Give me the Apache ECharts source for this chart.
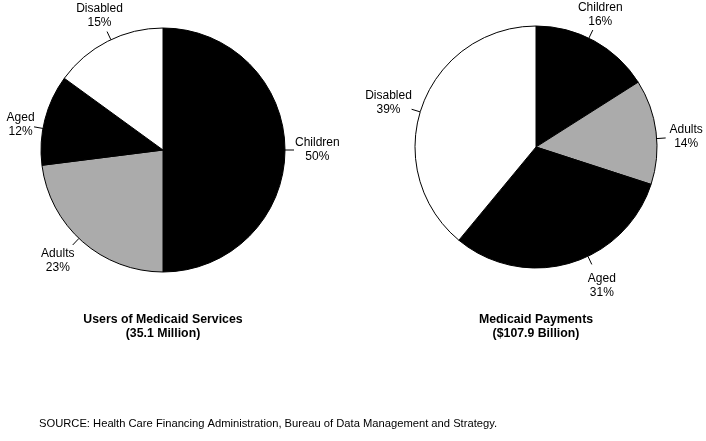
<!DOCTYPE html>
<html>
<head>
<meta charset="utf-8">
<script src="https://cdn.jsdelivr.net/npm/echarts@6/dist/echarts.min.js"></script>
<style>
html,body{margin:0;padding:0;background:#fff;}
#chart{width:706px;height:441px;}
</style>
</head>
<body>
<div id="chart"></div>
<script>
// ---- data ----
const categories = ['Children', 'Adults', 'Aged', 'Disabled'];
const usersShare = [50, 23, 12, 15];      // % of 35.1 million users
const paymentsShare = [16, 14, 31, 39];   // % of $107.9 billion payments
const usersTitle = 'Users of Medicaid Services\n(35.1 Million)';
const paymentsTitle = 'Medicaid Payments\n($107.9 Billion)';
const sourceText = 'SOURCE: Health Care Financing Administration, Bureau of Data Management and Strategy.';

// ---- styles / layout (not data) ----
const sliceColors = { Children: '#000000', Adults: '#ababab', Aged: '#000000', Disabled: '#ffffff' };
const pieGeom = [ { cx: 163, cy: 150, r: 122 }, { cx: 536, cy: 147, r: 121 } ];
const labelGap = 8;
const leaderLen = 9;
const labelNudge = [
  [[2, 0], [-5, -3], [0, 11], [6, 2]],
  [[-9, 1], [4, 8], [25, -2], [-1, 8]]
];
const FONT = '"Liberation Sans", Arial, Helvetica, sans-serif';

function midAngles(values) {
  const total = values.reduce((a, b) => a + b, 0);
  let acc = 0;
  return values.map(v => { const m = (acc + v / 2) / total * Math.PI * 2; acc += v; return m; });
}
const mids = [midAngles(usersShare), midAngles(paymentsShare)];

function buildData(values) {
  return categories.map((c, i) => ({
    name: c,
    value: values[i],
    itemStyle: { color: sliceColors[c] }
  }));
}

function labelLayout(p) {
  const g = pieGeom[p.seriesIndex];
  const th = mids[p.seriesIndex][p.dataIndex];
  const dx = Math.sin(th), dy = -Math.cos(th);
  const w = p.labelRect.width, h = p.labelRect.height;
  const sup = Math.abs(dx) * w / 2 + Math.abs(dy) * h / 2;
  const n = labelNudge[p.seriesIndex][p.dataIndex];
  const lx = g.cx + dx * (g.r + labelGap + sup) + n[0];
  const ly = g.cy + dy * (g.r + labelGap + sup) + n[1];
  let ux = lx - g.cx, uy = ly - g.cy;
  const m = Math.hypot(ux, uy); ux /= m; uy /= m;
  const e0 = [g.cx + ux * g.r, g.cy + uy * g.r];
  const e1 = [g.cx + ux * (g.r + leaderLen), g.cy + uy * (g.r + leaderLen)];
  return { x: lx, y: ly, align: 'center', verticalAlign: 'middle', labelLinePoints: [e0, e1, e1] };
}

function pieSeries(idx, values) {
  const g = pieGeom[idx];
  return {
    type: 'pie',
    center: [g.cx, g.cy],
    radius: g.r,
    startAngle: 90,
    clockwise: true,
    avoidLabelOverlap: false,
    animation: false,
    silent: true,
    itemStyle: { borderColor: '#000', borderWidth: 1 },
    label: {
      show: true,
      position: 'outside',
      formatter: p => p.name + '\n' + p.value + '%',
      fontFamily: FONT,
      fontSize: 12,
      lineHeight: 14,
      color: '#000',
      align: 'center'
    },
    labelLine: { show: true, length: 10, length2: 0, lineStyle: { color: '#000', width: 1 } },
    labelLayout: labelLayout,
    emphasis: { disabled: true },
    data: buildData(values)
  };
}

const chart = echarts.init(document.getElementById('chart'), null, { renderer: 'canvas' });
chart.setOption({
  backgroundColor: '#ffffff',
  animation: false,
  series: [pieSeries(0, usersShare), pieSeries(1, paymentsShare)],
  graphic: [
    { type: 'text', x: pieGeom[0].cx, y: 313, style: { text: usersTitle, align: 'center', verticalAlign: 'top', font: 'bold 12.3px ' + FONT, lineHeight: 14, fill: '#000' } },
    { type: 'text', x: pieGeom[1].cx, y: 313, style: { text: paymentsTitle, align: 'center', verticalAlign: 'top', font: 'bold 12.3px ' + FONT, lineHeight: 14, fill: '#000' } },
    { type: 'text', x: 39, y: 424, style: { text: sourceText, align: 'left', verticalAlign: 'middle', font: '11.2px ' + FONT, fill: '#000' } }
  ]
});
</script>
</body>
</html>
